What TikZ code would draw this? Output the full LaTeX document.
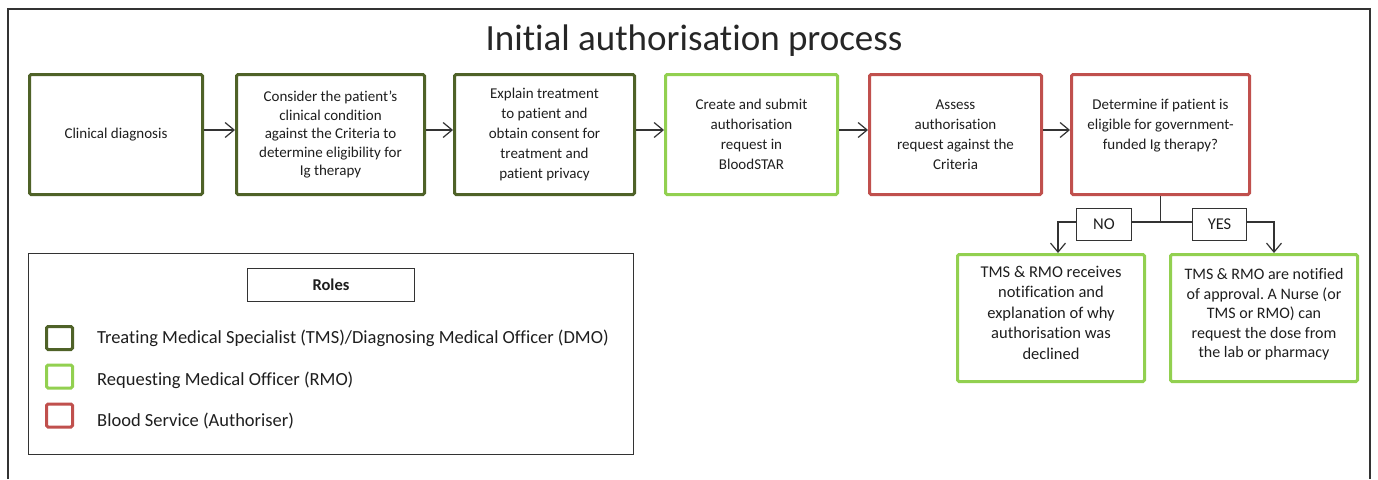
\documentclass[tikz,border=0pt]{standalone}
\usepackage{fontspec}
\setmainfont{Carlito}[Ligatures=NoCommon]
\usetikzlibrary{arrows.meta}
\definecolor{dkg}{HTML}{4F6228}
\definecolor{ltg}{HTML}{92D050}
\definecolor{rd}{HTML}{C0504D}
\definecolor{ln}{HTML}{333333}
\definecolor{txt}{HTML}{1E1E1E}
\frenchspacing
\begin{document}
\begin{tikzpicture}[x=1pt,y=-1pt,
  flow/.style={draw, line width=3pt, rounded corners=1.5pt, align=center,
    font=\fontsize{15}{18.5}\selectfont, inner sep=0pt, text=txt},
  dkbox/.style={flow, draw=dkg},
  ltbox/.style={flow, draw=ltg},
  rdbox/.style={flow, draw=rd},
  arr/.style={draw=ln, line width=1.2pt, -{Straight Barb[length=9pt,width=15pt]}},
  conn/.style={draw=ln, line width=1.2pt},
  tag/.style={draw=ln, line width=1.2pt, inner sep=0pt, font=\fontsize{16.5}{19}\selectfont, text=txt},
  keysq/.style={draw, line width=3pt, rounded corners=1.5pt, minimum width=26pt, minimum height=23pt, inner sep=0pt},
  keytxt/.style={anchor=west, inner sep=0pt, font=\fontsize{18.5}{21}\selectfont, text=txt},
  frame/.style={draw=ln, line width=1.2pt}
]
\useasboundingbox (0,0) rectangle (1378,479);
\draw[frame] (8,479) -- (8,9) -- (1370,9) -- (1370,479);

\node[anchor=base, font=\fontsize{37}{40}\selectfont, text=black!85] (title) at (694,50) {Initial authorisation process};

% top row
\node[dkbox, minimum width=173pt, minimum height=120pt] (b1) at (116,134.5) {Clinical diagnosis};
\node[dkbox, minimum width=188pt, minimum height=120pt] (b2) at (330.5,134.5) {Consider the patient’s\\clinical condition\\against the Criteria to\\determine eligibility for\\Ig therapy};
\node[dkbox, minimum width=180pt, minimum height=120pt, font=\fontsize{15}{20}\selectfont] (b3) at (544.5,134.5) {Explain treatment\\to patient and\\obtain consent for\\treatment and\\patient privacy};
\node[ltbox, minimum width=172pt, minimum height=120pt, font=\fontsize{15}{20}\selectfont] (b4) at (751.5,134.5) {Create and submit\\authorisation\\request in\\BloodSTAR};
\node[rdbox, minimum width=172pt, minimum height=120pt, font=\fontsize{15}{20}\selectfont] (b5) at (955.5,134.5) {Assess\\authorisation\\request against the\\Criteria};
\node[rdbox, minimum width=178pt, minimum height=120pt, font=\fontsize{15}{20}\selectfont] (b6) at (1160.5,134.5) {Determine if patient is\\eligible for government-\\funded Ig therapy?\\\mbox{}};

\draw[arr] ([yshift=4.5pt]b1.east) -- ([yshift=4.5pt]b2.west);
\draw[arr] ([yshift=4.5pt]b2.east) -- ([yshift=4.5pt]b3.west);
\draw[arr] ([yshift=4.5pt]b3.east) -- ([yshift=4.5pt]b4.west);
\draw[arr] ([yshift=4.5pt]b4.east) -- ([yshift=4.5pt]b5.west);
\draw[arr] ([yshift=4.5pt]b5.east) -- ([yshift=4.5pt]b6.west);

% decision branches
\node[tag, minimum width=55pt, minimum height=32pt] (no) at (1104,224.5) {NO};
\node[tag, minimum width=54pt, minimum height=32pt] (yes) at (1219.5,224.5) {YES};
\node[ltbox, minimum width=187pt, minimum height=127pt, font=\fontsize{16.5}{20.5}\selectfont] (dl) at (1051,318) {TMS \& RMO receives\\notification and\\explanation of why\\authorisation was\\declined\\[-10pt]\mbox{}};
\node[ltbox, minimum width=187pt, minimum height=127pt, font=\fontsize{16}{19.5}\selectfont] (dr) at (1264,318) {TMS \& RMO are notified\\of approval. A Nurse (or\\TMS or RMO) can\\request the dose from\\the lab or pharmacy\\[-10pt]\mbox{}};

\coordinate (j) at (b6.south |- 0,222);
\coordinate (cn) at (1058,222);
\coordinate (cy) at (1274,222);
\draw[conn] (b6.south) -- (j);
\draw[conn] (no.east |- j) -- (yes.west |- j);
\draw[arr] (no.west |- j) -- (cn) -- (cn |- dl.north);
\draw[arr] (yes.east |- j) -- (cy) -- (cy |- dr.north);

% legend
\node[draw=ln, line width=1.2pt, minimum width=605pt, minimum height=201pt, inner sep=0pt] (legend) at (331,354) {};
\node[draw=ln, line width=1.2pt, minimum width=167pt, minimum height=33pt, inner sep=0pt, font=\fontsize{16.5}{19}\selectfont\bfseries, text=txt] (roles) at (331,285) {Roles};
\node[keysq, draw=dkg] (k1) at (59.5,338) {};
\node[keysq, draw=ltg] (k2) at (59.5,376.5) {};
\node[keysq, draw=rd] (k3) at (59.5,415.5) {};
\node[keytxt] (t1) at (97,338) {Treating Medical Specialist (TMS)/Diagnosing Medical Officer (DMO)};
\node[keytxt] (t2) at (97,380) {Requesting Medical Officer (RMO)};
\node[keytxt] (t3) at (97,421) {Blood Service (Authoriser)};
\end{tikzpicture}
\end{document}
